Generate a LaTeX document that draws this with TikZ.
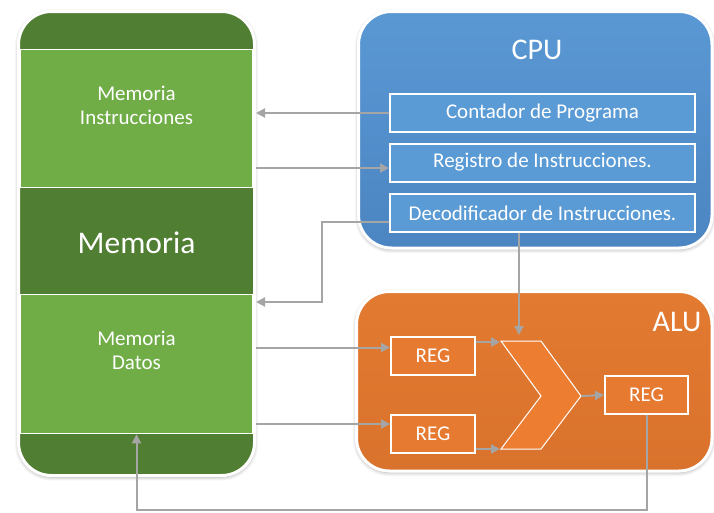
\documentclass[tikz,border=0pt]{standalone}
\usepackage{fontspec}
\setmainfont{Carlito}
\usetikzlibrary{arrows.meta,shadows.blur,calc}

\definecolor{dgreen}{HTML}{507E32}
\definecolor{lgreen}{HTML}{70AD47}
\definecolor{cputop}{HTML}{5A98D4}
\definecolor{cpubot}{HTML}{4B85C2}
\definecolor{cpuin}{HTML}{5B9BD5}
\definecolor{alutop}{HTML}{E37A31}
\definecolor{alubot}{HTML}{D9722C}
\definecolor{chevfill}{HTML}{ED7D31}
\definecolor{regfill}{HTML}{E67A30}
\definecolor{linegray}{HTML}{A5A5A5}

\tikzset{
  panel/.style={draw=white, line width=3pt, rounded corners=33pt, inner sep=0pt,
    blur shadow={shadow xshift=0pt, shadow yshift=-1.5pt, shadow blur radius=4pt,
      shadow blur steps=8, shadow opacity=35}},
  band/.style={draw=white, line width=1.5pt, fill=lgreen, minimum width=232pt, inner sep=0pt},
  lbl/.style={text=white, align=center, font=\fontsize{21}{24}\selectfont},
  biglbl/.style={text=white, font=\fontsize{31.5}{36}\selectfont},
  title/.style={text=white, font=\fontsize{30}{34}\selectfont},
  cpubox/.style={draw=white, line width=2pt, fill=cpuin, minimum width=305pt,
    minimum height=38pt, inner sep=0pt, text=white, font=\fontsize{21}{24}\selectfont},
  regbox/.style={draw=white, line width=2pt, fill=regfill, minimum width=84pt,
    minimum height=38pt, inner sep=0pt, text=white, font=\fontsize{21}{24}\selectfont},
  conn/.style={draw=linegray, line width=2pt, -{Triangle[length=9pt,width=9pt]}}
}

\begin{document}
\begin{tikzpicture}[x=1pt,y=-1pt]
\useasboundingbox (0,0) rectangle (714,512);

% ---------- memory block ----------
\node[panel, fill=dgreen, minimum width=236pt, minimum height=464pt] (mem) at (136.5,243.5) {};
\node[band, minimum height=138pt] (minst) at (136.5,118.5) {};
\node[band, minimum height=139pt] (mdat) at (136.5,364) {};
\node[lbl] (minsttxt) at (136.5,105) {Memoria\\Instrucciones};
\node[biglbl] (memtxt) at (136.5,243) {Memoria};
\node[lbl] (mdattxt) at (136.5,350) {Memoria\\Datos};

% ---------- CPU ----------
\node[panel, top color=cputop, bottom color=cpubot, minimum width=353.5pt, minimum height=236.5pt] (cpu) at (535.25,129.75) {};
\node[title] (cputxt) at (537,50) {CPU};
\node[cpubox] (pc) at (542.5,113) {Contador de Programa};
\node[cpubox] (ri) at (542.5,162.5) {Registro de Instrucciones.};
\node[cpubox] (dec) at (542.5,213) {Decodificador de Instrucciones.};

% ---------- ALU ----------
\node[panel, top color=alutop, bottom color=alubot, minimum width=355.5pt, minimum height=179.5pt] (alu) at (534.25,381.25) {};
\node[title] (alutxt) at (677,322) {ALU};
\node[regbox] (r1) at (433,356) {REG};
\node[regbox] (r2) at (433,434) {REG};
\node[regbox, minimum width=83pt] (r3) at (646.5,395) {REG};

% operation chevron
\draw[draw=white, line width=1pt, fill=chevfill]
  (501,341) -- (541,341) -- (581,396) -- (541,449) -- (501,449) -- (541,396) -- cycle;
\coordinate (chtl) at (500,342);
\coordinate (chbl) at (500,449);
\coordinate (chtip) at (581.5,396);
\coordinate (chtop) at (519,335);

% ---------- connectors ----------
\draw[conn] (pc.west) -- (pc.west -| mem.east);

\coordinate (riin) at ($(ri.west)+(0,5.5)$);
\draw[conn] (riin -| mem.east) -- (riin);

\coordinate (decout) at ($(dec.west)+(0,9)$);
\coordinate (dk) at (322,302);
\draw[conn] (decout) -| (dk) -- (dk -| mem.east);

\draw[conn] (dec.south -| chtop) -- (chtop);

\coordinate (r1in) at ($(r1.west)+(0,-8.5)$);
\draw[conn] (r1in -| mem.east) -- (r1in);
\coordinate (r2in) at ($(r2.west)+(0,-10)$);
\draw[conn] (r2in -| mem.east) -- (r2in);

\draw[conn] (r1.east |- chtl) -- (chtl);
\draw[conn] (r2.east |- chbl) -- (chbl);
\draw[conn] (chtip) -- (r3.west);

\coordinate (fb) at (646.5,510);
\draw[conn] (r3.south) -- (fb) -| (mdat.south);
\end{tikzpicture}
\end{document}
